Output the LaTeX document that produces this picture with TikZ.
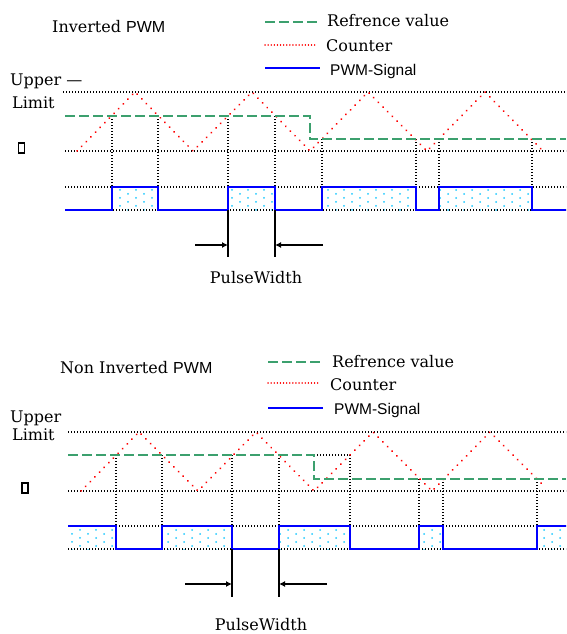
\documentclass[tikz,border=0pt]{standalone}
\usepackage{fontspec}
\setmainfont{DejaVu Serif}
\newfontfamily\pwmfont{Liberation Sans}
\usetikzlibrary{arrows.meta,patterns}
\definecolor{refgreen}{RGB}{60,160,110}
\definecolor{dotcyan}{RGB}{30,200,255}
\pgfdeclarepatternformonly{pwmdots}{\pgfqpoint{-2pt}{-2pt}}{\pgfqpoint{10pt}{6pt}}{\pgfqpoint{16pt}{8pt}}%
{\pgfpathcircle{\pgfqpoint{0pt}{0pt}}{1pt}\pgfpathcircle{\pgfqpoint{8pt}{4pt}}{1pt}\pgfusepath{fill}}
\begin{document}
\begin{tikzpicture}[x=1pt,y=-1pt,
  lbl/.style={anchor=base west,inner sep=0pt,font=\fontsize{16}{19}\selectfont},
  sig/.style={anchor=base west,inner sep=0pt,font=\pwmfont\fontsize{15.5}{18}\selectfont},
  zerobox/.style={draw,line width=1.5pt,minimum width=6pt,minimum height=10pt,inner sep=0pt},
  refline/.style={draw=refgreen,line width=2pt,dash pattern=on 10pt off 4pt},
  cntline/.style={draw=red,line width=2pt,dash pattern=on 0.1pt off 6.5pt,line cap=round},
  cntkey/.style={draw=red,line width=1.4pt,dash pattern=on 0.1pt off 3pt,line cap=round},
  pwmline/.style={draw=blue,line width=2pt},
  dotline/.style={draw=black,line width=1.2pt,dash pattern=on 1.2pt off 1.8pt},
  pulse/.style={pattern=pwmdots,pattern color=dotcyan},
  pw/.style={line width=1.3pt},
  pwarrow/.style={pw,-{Latex[length=6pt,width=6pt]}}]
\useasboundingbox (0,0) rectangle (566,634);

% ---------------- inverted PWM ----------------
\node[lbl] (tinv) at (52,33) {Inverted {\pwmfont\fontsize{16}{19}\selectfont PWM}};
\draw[refline] (265,22) -- (320,22);
\draw[cntkey] (265,45) -- (316,45);
\draw[pwmline] (265,68) -- (320,68);
\node[lbl] (kref) at (327,27) {Refrence value};
\node[lbl] (kcnt) at (326,52) {Counter};
\node[sig] (kpwm) at (330,75) {PWM-Signal};
\node[lbl] (upper) at (10,85) {Upper —};
\node[lbl] (limit) at (12,108) {Limit};
\node[zerobox] (zero) at (21.5,148) {};

\foreach \a/\b in {112/158,228/275,322/416,439/532}
  \fill[pulse] (\a,187) rectangle (\b,210);
\draw[dotline] (63,92) -- (566,92);
\draw[dotline] (65,151) -- (566,151);
\draw[dotline] (65,187) -- (566,187);
\draw[dotline] (65,210) -- (566,210);
\foreach \x in {112,158,228,275}
  \draw[dotline] (\x,116) -- (\x,187);
\foreach \x in {322,416,439,532}
  \draw[dotline] (\x,139) -- (\x,187);
\draw[cntline] (77,151) -- (135,92) -- (193,151) -- (252,92) -- (310,151)
  -- (368,92) -- (427,151) -- (485,92) -- (543,151);
\draw[refline] (65,116) -- (310,116) -- (310,139) -- (566,139);
\draw[pwmline] (65,210) -| (112,187) -| (158,210) -| (228,187) -| (275,210)
  -| (322,187) -| (416,210) -| (439,187) -| (532,210) -- (566,210);

% pulse width
\coordinate (it1) at (228,210); \coordinate (ib1) at (228,257);
\coordinate (it2) at (275,210); \coordinate (ib2) at (275,257);
\coordinate (ia1) at (195,245); \coordinate (ia2) at (228,245);
\coordinate (ia3) at (275,245); \coordinate (ia4) at (323,245);
\draw[pw] (it1) -- (ib1);
\draw[pw] (it2) -- (ib2);
\draw[pwarrow] (ia1) -- (ia2);
\draw[pwarrow] (ia4) -- (ia3);
\node[lbl,anchor=base] (ipw) at (256,283) {PulseWidth};

% ---------------- non inverted PWM ----------------
\node[lbl] (tnon) at (60,373) {Non Inverted {\pwmfont\fontsize{16}{19}\selectfont PWM}};
\draw[refline] (268,362) -- (323,362);
\draw[cntkey] (268,383) -- (318,383);
\draw[pwmline] (268,408) -- (323,408);
\node[lbl] (nref) at (332,367) {Refrence value};
\node[lbl] (ncnt) at (330,390) {Counter};
\node[sig] (npwm) at (334,414) {PWM-Signal};
\node[lbl] (nupper) at (10,422) {Upper};
\node[lbl] (nlimit) at (12,440) {Limit};
\node[zerobox] (nzero) at (25,488) {};

\foreach \a/\b in {68/116,162/232,279/350,419/443,537/566}
  \fill[pulse] (\a,526) rectangle (\b,549);
\draw[dotline] (68,432) -- (566,432);
\draw[dotline] (68,491) -- (566,491);
\draw[dotline] (68,526) -- (566,526);
\draw[dotline] (68,549) -- (566,549);
\foreach \x in {116,162,232,279}
  \draw[dotline] (\x,455) -- (\x,526);
\foreach \x in {419,443,537}
  \draw[dotline] (\x,479) -- (\x,526);
\draw[dotline] (314,455) -- (350,455) -- (350,526);
\draw[cntline] (81,491) -- (139,432) -- (198,491) -- (256,432) -- (314,491)
  -- (373,432) -- (432,491) -- (490,432) -- (545,487);
\draw[refline] (68,455) -- (314,455) -- (314,479) -- (566,479);
\draw[pwmline] (68,526) -| (116,549) -| (162,526) -| (232,549) -| (279,526)
  -| (350,549) -| (419,526) -| (443,549) -| (537,526) -- (566,526);

% pulse width
\coordinate (nt1) at (232,549); \coordinate (nb1) at (232,597);
\coordinate (nt2) at (279,549); \coordinate (nb2) at (279,597);
\coordinate (na1) at (185,584); \coordinate (na2) at (232,584);
\coordinate (na3) at (279,584); \coordinate (na4) at (327,584);
\draw[pw] (nt1) -- (nb1);
\draw[pw] (nt2) -- (nb2);
\draw[pwarrow] (na1) -- (na2);
\draw[pwarrow] (na4) -- (na3);
\node[lbl,anchor=base] (npw) at (261,630) {PulseWidth};
\end{tikzpicture}
\end{document}
